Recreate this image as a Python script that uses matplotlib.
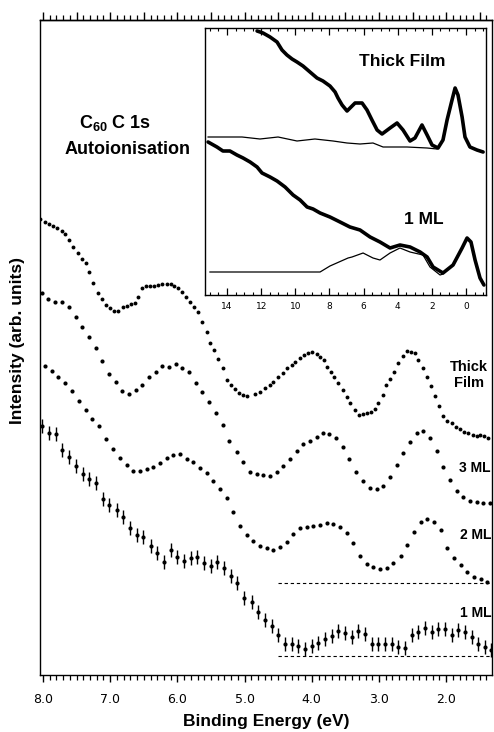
import matplotlib
matplotlib.use("Agg")
import matplotlib.pyplot as plt
from matplotlib.ticker import MultipleLocator, NullFormatter, FixedLocator

plt.rcParams['font.family'] = ['Liberation Sans', 'DejaVu Sans']
plt.rcParams['mathtext.fontset'] = 'custom'
plt.rcParams['mathtext.rm'] = 'Liberation Sans:bold'
plt.rcParams['mathtext.default'] = 'rm'

# ---------------- main panel data (binding energy eV, intensity arb. units) ----------------
thick_E = [8.04, 7.97, 7.91, 7.85, 7.79, 7.72, 7.67, 7.61, 7.55, 7.48, 7.42, 7.36, 7.32, 7.26,
           7.18, 7.12, 7.06, 7.00, 6.94, 6.88, 6.81, 6.75, 6.69, 6.63, 6.59, 6.53, 6.47, 6.41,
           6.35, 6.29, 6.23, 6.15, 6.10, 6.05, 5.99, 5.93, 5.87, 5.81, 5.75, 5.69, 5.63, 5.56,
           5.51, 5.46, 5.40, 5.32, 5.26, 5.20, 5.14, 5.08, 5.02, 4.96, 4.85, 4.77, 4.70, 4.62,
           4.58, 4.50, 4.43, 4.37, 4.29, 4.25, 4.18, 4.12, 4.06, 4.00, 3.92, 3.88, 3.82, 3.77,
           3.71, 3.67, 3.61, 3.54, 3.48, 3.43, 3.36, 3.30, 3.24, 3.18, 3.12, 3.06, 3.01, 2.94,
           2.90, 2.84, 2.78, 2.72, 2.64, 2.58, 2.52, 2.46, 2.42, 2.35, 2.29, 2.23, 2.17, 2.11,
           2.05, 1.99, 1.91, 1.85, 1.79, 1.73, 1.68, 1.60, 1.54, 1.50, 1.44, 1.38]
thick_I = [45.6, 45.3, 45.1, 44.9, 44.7, 44.4, 44.1, 43.5, 42.8, 42.2, 41.6, 41.2, 40.3, 39.2,
           38.2, 37.6, 37.0, 36.7, 36.4, 36.4, 36.8, 36.9, 37.1, 37.2, 37.8, 38.7, 38.9, 38.9,
           38.9, 39.0, 39.1, 39.1, 39.1, 38.9, 38.7, 38.3, 37.8, 37.3, 36.8, 36.3, 35.3, 34.3,
           33.2, 32.5, 31.6, 30.7, 29.5, 29.0, 28.6, 28.2, 28.0, 27.9, 28.1, 28.3, 28.7, 29.0,
           29.3, 29.8, 30.2, 30.7, 31.0, 31.3, 31.7, 32.0, 32.2, 32.3, 32.1, 31.8, 31.5, 30.8,
           30.3, 29.8, 29.2, 28.5, 27.8, 27.2, 26.5, 26.0, 26.1, 26.2, 26.3, 26.6, 27.2, 28.0,
           29.0, 29.6, 30.3, 31.2, 31.9, 32.4, 32.3, 32.2, 31.5, 30.7, 29.8, 28.9, 27.9, 26.9,
           25.9, 25.4, 25.2, 24.8, 24.6, 24.3, 24.2, 24.0, 23.9, 24.0, 23.9, 23.7]

ml3_E = [8.01, 7.93, 7.82, 7.72, 7.61, 7.51, 7.42, 7.32, 7.21, 7.12, 7.02, 6.91, 6.82, 6.72,
         6.62, 6.53, 6.42, 6.32, 6.23, 6.12, 6.02, 5.93, 5.83, 5.72, 5.63, 5.53, 5.43, 5.32,
         5.23, 5.11, 5.02, 4.92, 4.82, 4.73, 4.62, 4.52, 4.43, 4.32, 4.22, 4.13, 4.03, 3.92,
         3.83, 3.74, 3.64, 3.54, 3.45, 3.34, 3.24, 3.13, 3.03, 2.94, 2.84, 2.73, 2.64, 2.54,
         2.43, 2.35, 2.24, 2.14, 2.05, 1.94, 1.84, 1.75, 1.65, 1.54, 1.45, 1.35]
ml3_I = [38.2, 37.6, 37.3, 37.3, 36.8, 35.8, 34.8, 33.8, 32.7, 31.4, 30.1, 29.3, 28.4, 28.1,
         28.5, 29.0, 29.8, 30.3, 30.9, 30.8, 31.1, 30.7, 30.3, 29.2, 28.3, 27.3, 26.2, 25.0,
         23.4, 22.3, 21.3, 20.3, 20.1, 20.0, 19.9, 20.3, 20.9, 21.6, 22.4, 23.1, 23.4, 23.8,
         24.2, 24.1, 23.7, 22.8, 21.6, 20.3, 19.4, 18.7, 18.6, 18.9, 19.8, 21.0, 22.2, 23.3,
         24.2, 24.4, 23.7, 22.4, 20.8, 19.5, 18.4, 17.8, 17.4, 17.3, 17.2, 17.2]

ml2_E = [7.97, 7.87, 7.78, 7.67, 7.57, 7.46, 7.36, 7.27, 7.17, 7.06, 6.96, 6.85, 6.75, 6.66,
         6.56, 6.45, 6.36, 6.26, 6.15, 6.07, 5.96, 5.86, 5.77, 5.66, 5.56, 5.47, 5.37, 5.26,
         5.17, 5.07, 4.96, 4.88, 4.77, 4.67, 4.58, 4.47, 4.37, 4.28, 4.18, 4.07, 3.98, 3.88,
         3.77, 3.68, 3.58, 3.48, 3.39, 3.28, 3.18, 3.09, 2.99, 2.88, 2.79, 2.67, 2.58, 2.48,
         2.38, 2.29, 2.18, 2.08, 1.99, 1.88, 1.78, 1.69, 1.59, 1.48, 1.39]
ml2_I = [30.9, 30.4, 29.8, 29.2, 28.4, 27.4, 26.5, 25.6, 24.9, 23.6, 22.6, 21.7, 21.0, 20.4,
         20.4, 20.6, 20.8, 21.2, 21.7, 22.0, 22.1, 21.6, 21.3, 20.7, 20.2, 19.4, 18.6, 17.7,
         16.3, 14.9, 14.0, 13.4, 12.9, 12.7, 12.5, 12.8, 13.3, 14.1, 14.7, 14.8, 14.9, 15.0,
         15.2, 15.1, 14.8, 14.2, 13.2, 11.9, 11.1, 10.8, 10.6, 10.7, 11.2, 11.9, 13.0, 14.3,
         15.3, 15.6, 15.3, 14.5, 12.7, 11.7, 11.0, 10.3, 9.8, 9.6, 9.3]
ml2_base_E = [4.50, 1.30]
ml2_base_I = [9.2, 9.2]

ml1_E = [8.01, 7.91, 7.81, 7.72, 7.61, 7.51, 7.40, 7.32, 7.21, 7.11, 7.02, 6.90, 6.81, 6.71,
         6.60, 6.51, 6.39, 6.30, 6.20, 6.10, 6.01, 5.90, 5.80, 5.71, 5.60, 5.50, 5.41, 5.31,
         5.20, 5.11, 5.01, 4.89, 4.80, 4.70, 4.59, 4.50, 4.40, 4.29, 4.21, 4.10, 4.00, 3.91,
         3.80, 3.70, 3.61, 3.51, 3.40, 3.31, 3.21, 3.10, 3.01, 2.91, 2.81, 2.72, 2.61, 2.51,
         2.42, 2.32, 2.21, 2.12, 2.02, 1.91, 1.82, 1.72, 1.62, 1.53, 1.42, 1.34]
ml1_I = [24.9, 24.2, 24.1, 22.5, 21.8, 20.9, 20.1, 19.6, 19.2, 17.6, 17.0, 16.5, 15.8, 14.7,
         14.0, 13.8, 12.9, 12.2, 11.3, 12.5, 11.8, 11.4, 11.7, 11.8, 11.2, 10.9, 11.3, 10.7,
         9.9, 9.2, 7.7, 7.3, 6.3, 5.5, 4.9, 4.0, 3.1, 3.1, 2.9, 2.6, 2.9, 3.2,
         3.6, 3.9, 4.4, 4.2, 3.8, 4.4, 4.1, 3.1, 3.1, 3.1, 3.1, 2.8, 2.7, 4.0,
         4.3, 4.7, 4.3, 4.6, 4.6, 4.0, 4.5, 4.3, 3.8, 3.1, 2.8, 2.5]
ml1_err = 0.7
ml1_base_E = [4.50, 1.30]
ml1_base_I = [1.9, 1.9]

main_xticks = [8.0, 7.0, 6.0, 5.0, 4.0, 3.0, 2.0]
main_xticklabels = ["8.0", "7.0", "6.0", "5.0", "4.0", "3.0", "2.0"]

# ---------------- inset data ----------------
in_thick_E = [12.24, 11.89, 11.48, 11.07, 10.78, 10.49, 10.19, 9.90, 9.55, 9.14, 8.73, 8.38,
              7.97, 7.67, 7.50, 7.26, 6.97, 6.50, 6.09, 5.80, 5.51, 5.21, 4.92, 4.45, 4.04,
              3.69, 3.28, 2.99, 2.58, 2.28, 1.99, 1.64, 1.35, 1.11, 0.82, 0.64, 0.47, 0.23,
              0.06, -0.23, -0.64, -1.00]
in_thick_I = [26.4, 26.2, 25.8, 25.3, 24.5, 24.0, 23.6, 23.3, 22.9, 22.3, 21.7, 21.4,
              20.9, 20.3, 19.7, 19.0, 18.4, 19.2, 19.2, 18.5, 17.5, 16.5, 16.1, 16.7, 17.2,
              16.5, 15.4, 15.7, 17.0, 16.0, 15.0, 14.7, 15.5, 17.5, 19.5, 20.7, 20.0, 17.8,
              15.8, 14.8, 14.5, 14.3]
in_thick_ref_E = [15.11, 14.00, 13.12, 12.07, 11.01, 9.90, 8.85, 7.79, 6.97, 6.21, 5.45, 4.86,
                  3.46, 2.28, 1.70, 1.64]
in_thick_ref_I = [15.8, 15.8, 15.8, 15.6, 15.8, 15.4, 15.6, 15.4, 15.2, 15.1, 15.2, 14.8,
                  14.8, 14.7, 14.6, 14.7]
in_ml1_E = [15.11, 14.59, 14.24, 13.83, 13.42, 13.06, 12.65, 12.24, 11.95, 11.48, 11.07, 10.60,
            10.13, 9.72, 9.31, 8.96, 8.55, 7.97, 7.38, 6.80, 6.21, 5.62, 5.04, 4.45, 3.87,
            3.28, 2.69, 2.28, 1.93, 1.35, 0.76, 0.23, -0.06, -0.29, -0.53, -0.82, -1.05]
in_ml1_I = [15.3, 14.8, 14.4, 14.4, 14.0, 13.7, 13.3, 12.8, 12.2, 11.8, 11.4, 10.8,
            10.0, 9.5, 8.8, 8.6, 8.2, 7.8, 7.3, 6.8, 6.5, 5.8, 5.3, 4.7, 5.0,
            4.8, 4.3, 3.8, 2.8, 2.2, 3.0, 4.7, 5.7, 5.3, 3.5, 1.7, 1.0]
in_ml1_ref_E = [15.00, 8.55, 7.97, 6.91, 6.68, 6.03, 5.45, 5.04, 4.45, 3.87, 3.28, 2.52,
                2.11, 1.52, 1.35]
in_ml1_ref_I = [2.3, 2.3, 2.9, 3.7, 3.8, 4.2, 3.7, 3.5, 4.2, 4.7, 4.3, 4.0,
                2.8, 2.0, 2.1]
in_xticks = [14, 12, 10, 8, 6, 4, 2, 0]
in_xticklabels = ["14", "12", "10", "8", "6", "4", "2", "0"]

# ---------------- figure ----------------
W, H = 494, 732
fig = plt.figure(figsize=(W / 100, H / 100), dpi=100)

ax = fig.add_axes([40 / W, 1 - 675 / H, (492 - 40) / W, (675 - 20) / H])
ax.set_xlim(8.045, 1.318)
ax.set_ylim(0, 65.5)

ms = 3.0
ax.plot(thick_E, thick_I, 'o', color='black', ms=2.8, mew=0)
ax.plot(ml3_E, ml3_I, 'o', color='black', ms=ms, mew=0)
ax.plot(ml2_E, ml2_I, 'o', color='black', ms=ms, mew=0)
ax.plot(ml2_base_E, ml2_base_I, '--', color='black', lw=0.8, dashes=(3, 2.5))
ax.errorbar(ml1_E, ml1_I, yerr=ml1_err, fmt='o', color='black', ms=ms, mew=0,
            elinewidth=1.0, capsize=4.0, capthick=1.0)
ax.plot(ml1_base_E, ml1_base_I, '--', color='black', lw=0.8, dashes=(3, 2.5))

for s in ax.spines.values():
    s.set_linewidth(1.0)
ax.set_yticks([])
ax.xaxis.set_major_locator(FixedLocator(main_xticks))
ax.set_xticklabels(main_xticklabels, fontsize=9, family='DejaVu Sans')
ax.xaxis.set_minor_locator(MultipleLocator(0.1))
ax.tick_params(axis='x', which='major', direction='out', length=5, width=1.0, pad=8)
ax.tick_params(axis='x', which='minor', direction='out', length=3.5, width=0.9)

top = ax.secondary_xaxis('top')
top.xaxis.set_major_locator(MultipleLocator(0.5))
top.xaxis.set_minor_locator(MultipleLocator(0.1))
top.xaxis.set_major_formatter(NullFormatter())
top.tick_params(which='major', direction='out', length=5.5, width=1.0)
top.tick_params(which='minor', direction='out', length=3.5, width=0.9)
top.spines['top'].set_linewidth(1.0)

ax.set_xlabel("Binding Energy (eV)", fontsize=12.5, fontweight='bold', labelpad=6)
fig.text(18 / W, 1 - 340 / H, "Intensity (arb. units)", rotation=90, ha='center', va='center',
         fontsize=12.5, fontweight='bold')

fig.text(115 / W, 1 - 123 / H, r"C$_{60}$ C 1s", ha='center', va='center', fontsize=13, fontweight='bold')
fig.text(128 / W, 1 - 150 / H, "Autoionisation", ha='center', va='center', fontsize=13, fontweight='bold')

fig.text(469 / W, 1 - 375 / H, "Thick\nFilm", ha='center', va='center', fontsize=10.5,
         fontweight='bold', linespacing=1.15)
fig.text(475 / W, 1 - 468 / H, "3 ML", ha='center', va='center', fontsize=10, fontweight='bold')
fig.text(476 / W, 1 - 535 / H, "2 ML", ha='center', va='center', fontsize=10, fontweight='bold')
fig.text(476 / W, 1 - 613 / H, "1 ML", ha='center', va='center', fontsize=10, fontweight='bold')

# ---------------- inset ----------------
ins = fig.add_axes([205 / W, 1 - 295 / H, (486 - 205) / W, (295 - 28) / H])
ins.set_facecolor('white')
ins.set_xlim(15.29, -1.17)
ins.set_ylim(0, 26.7)
ins.plot(in_thick_E, in_thick_I, '-', color='black', lw=2.6, solid_capstyle='round')
ins.plot(in_thick_ref_E, in_thick_ref_I, '-', color='black', lw=0.9)
ins.plot(in_ml1_E, in_ml1_I, '-', color='black', lw=2.6, solid_capstyle='round')
ins.plot(in_ml1_ref_E, in_ml1_ref_I, '-', color='black', lw=0.9)
for s in ins.spines.values():
    s.set_linewidth(1.0)
ins.set_yticks([])
ins.xaxis.set_major_locator(FixedLocator(in_xticks))
ins.set_xticklabels(in_xticklabels, fontsize=6.5, family='DejaVu Sans')
ins.xaxis.set_minor_locator(MultipleLocator(0.5))
ins.tick_params(axis='x', which='major', direction='in', length=5, width=0.9, top=True, pad=5)
ins.tick_params(axis='x', which='minor', direction='in', length=2.5, width=0.8, top=True)
ins.text(402 / W, 1 - 62 / H, "Thick Film", transform=fig.transFigure, ha='center', va='center',
         fontsize=12.5, fontweight='bold')
ins.text(424 / W, 1 - 220 / H, "1 ML", transform=fig.transFigure, ha='center', va='center',
         fontsize=12.5, fontweight='bold')

fig.savefig("out.png", dpi=100)
